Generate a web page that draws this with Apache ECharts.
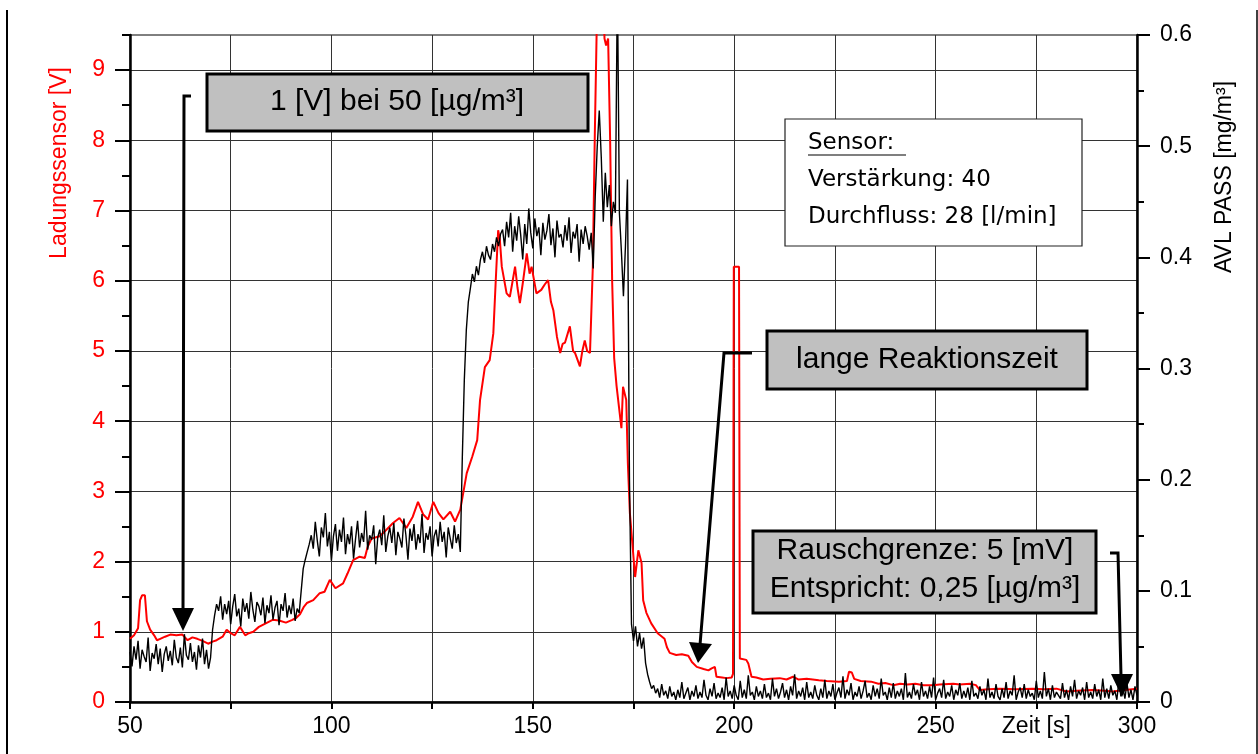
<!DOCTYPE html>
<html>
<head>
<meta charset="utf-8">
<script src="https://cdn.jsdelivr.net/npm/echarts@6/dist/echarts.min.js"></script>
<style>
html,body{margin:0;padding:0;background:#fff;}
#chart{width:1258px;height:754px;}
</style>
</head>
<body>
<div id="chart"></div>
<script>
// ---------- data ----------
// Ladungssensor [V] : [time s, value V]
const redSeries = [
[50,0.90],[51,0.95],[52,1.05],[52.5,1.45],[53,1.52],[53.7,1.52],[54.2,1.15],[55,1.03],[56,0.95],[56.7,0.88],
[57.5,0.90],[58.7,0.93],[60,0.96],[61.5,0.95],[63,0.96],[64.3,0.88],[65.5,0.92],[66.7,0.90],[68,0.87],[69.4,0.83],
[70.5,0.86],[71.5,0.88],[73,0.93],[74,1.03],[75,0.98],[76,0.95],[77.3,1.07],[78.6,0.95],[79.5,0.98],[80.6,1.00],
[82,1.07],[83.7,1.12],[85.4,1.17],[87,1.16],[88.7,1.13],[90.3,1.17],[91.3,1.20],[92.2,1.25],[93.2,1.36],[93.9,1.41],
[95.5,1.45],[97.1,1.55],[98.3,1.57],[99.6,1.74],[101,1.62],[102.9,1.69],[104,1.83],[105.4,2.02],[107,2.07],[108.3,2.05],
[109,2.21],[110,2.33],[112,2.36],[113.6,2.45],[115.3,2.55],[116.9,2.62],[118.6,2.48],[120.2,2.64],[121.5,2.85],[122.8,2.67],
[124,2.60],[125.3,2.85],[126.6,2.69],[127.8,2.60],[129.5,2.71],[130.7,2.57],[132,2.74],[132.8,3.00],[133.6,3.26],[135,3.50],
[136.2,3.73],[136.9,4.30],[138.1,4.77],[139.3,4.87],[140.2,5.25],[140.8,6.00],[141.4,6.72],[141.8,6.60],[142.3,6.20],[143.5,5.82],
[144.3,5.77],[145,6.00],[145.6,6.20],[146.2,5.90],[146.8,5.68],[147.6,6.00],[148.5,6.39],[149.2,6.10],[149.7,6.20],[150.9,5.82],
[152.1,5.87],[153,5.95],[153.8,6.01],[154.5,5.70],[155.1,5.58],[156,5.20],[156.8,4.97],[157.4,5.10],[158,5.12],[159.2,5.35],
[160,5.00],[160.5,4.97],[161.7,4.78],[162.3,5.00],[162.9,5.15],[163.5,5.00],[164.2,4.97],[164.9,6.20],[165.4,8.10],[165.9,9.70],
[166.5,10.5],[167.3,10.5],[167.8,9.45],[168.2,9.35],[168.7,9.45],[169.2,8.00],[169.7,6.00],[170.2,4.90],[170.8,4.50],[171.4,4.20],
[172,3.90],[172.4,4.49],[172.8,4.50],[173.2,4.30],[173.6,3.40],[174.1,2.69],[175.4,1.78],[176.2,2.16],[177,1.98],[177.4,1.45],
[178.2,1.27],[179.4,1.12],[181,0.98],[182.7,0.90],[183.3,0.78],[184,0.70],[185.6,0.67],[187,0.68],[188.6,0.66],[189.5,0.57],
[190.7,0.50],[192.4,0.47],[193.6,0.45],[194.4,0.48],[195.2,0.50],[195.6,0.36],[197,0.35],[198.1,0.34],[199.4,0.35],[199.7,0.40],
[199.9,6.20],[201.2,6.20],[201.4,0.62],[203,0.60],[203.5,0.55],[204.3,0.36],[205.5,0.35],[207.2,0.32],[209,0.33],[211.3,0.34],
[213,0.32],[214.6,0.36],[216,0.32],[218,0.33],[221,0.31],[223,0.30],[226,0.29],[228,0.30],[228.5,0.43],[229.2,0.42],
[229.8,0.33],[231.4,0.30],[234,0.29],[235.8,0.26],[237.5,0.27],[239.5,0.24],[241.2,0.26],[243,0.25],[245,0.26],[247,0.24],
[249.3,0.24],[251,0.25],[254.4,0.26],[256,0.25],[258.6,0.26],[260,0.24],[261,0.17],[263,0.18],[266,0.19],[270,0.18],
[274,0.19],[277,0.18],[280,0.19],[282.5,0.15],[285,0.16],[289,0.17],[292,0.16],[294,0.15],[297,0.17],[300,0.19]
];

// AVL PASS [mg/m³], sampled every 0.5 s from 50 s
const blackStart = 50;
const blackStep = 0.5;
const blackValues = [
// 50 - 69.5
0.045,0.032,0.050,0.038,0.055,0.030,0.047,0.041,0.036,0.058,
0.028,0.044,0.039,0.052,0.034,0.048,0.027,0.043,0.050,0.037,
0.046,0.033,0.056,0.040,0.035,0.049,0.031,0.061,0.042,0.038,
0.053,0.036,0.045,0.029,0.051,0.040,0.057,0.034,0.047,0.030,
// 70 - 71.5
0.040,0.065,0.078,0.088,
// 72 - 91.5
0.082,0.095,0.074,0.088,0.079,0.091,0.070,0.086,0.097,0.077,
0.084,0.068,0.093,0.081,0.089,0.075,0.099,0.083,0.072,0.090,
0.086,0.078,0.094,0.071,0.087,0.080,0.096,0.074,0.085,0.091,
0.069,0.088,0.082,0.098,0.076,0.087,0.079,0.093,0.073,0.084,
// 92 - 94.5
0.080,0.100,0.120,0.128,0.135,0.142,
// 95 - 131.5
0.150,0.138,0.162,0.145,0.131,0.157,0.148,0.170,0.140,0.153,
0.127,0.149,0.160,0.136,0.155,0.144,0.166,0.133,0.151,0.142,
0.158,0.129,0.147,0.163,0.139,0.152,0.144,0.172,0.137,0.150,
0.146,0.159,0.124,0.148,0.155,0.141,0.168,0.135,0.149,0.157,
0.143,0.161,0.132,0.153,0.147,0.139,0.165,0.150,0.128,0.156,
0.145,0.160,0.137,0.151,0.143,0.169,0.134,0.152,0.146,0.158,
0.131,0.149,0.155,0.140,0.162,0.144,0.153,0.130,0.157,0.147,
0.138,0.159,0.143,0.151,
// 132 - 142
0.135,0.220,0.290,0.335,0.360,0.372,0.385,0.378,0.392,0.384,
0.398,0.405,0.395,0.410,0.402,0.398,0.412,0.405,0.418,0.410,0.421,
// 142.5 - 164.5
0.425,0.410,0.432,0.418,0.440,0.405,0.428,0.415,0.437,0.420,
0.398,0.430,0.412,0.444,0.422,0.408,0.435,0.419,0.427,0.402,
0.431,0.416,0.424,0.439,0.411,0.426,0.400,0.433,0.418,0.421,
0.409,0.429,0.415,0.436,0.404,0.423,0.417,0.430,0.396,0.425,
0.412,0.428,0.419,0.407,0.422,
// 165 - 180.5
0.390,0.455,0.500,0.532,0.490,0.432,0.476,0.445,0.465,0.428,
0.450,0.440,0.650,0.440,0.405,0.365,0.410,0.470,0.200,0.070,
0.055,0.068,0.050,0.062,0.048,0.058,0.035,0.025,0.018,0.012,
0.015,0.008,
// 181 - 300
0.012,0.004,0.016,0.006,0.010,0.003,0.014,0.005,0.009,0.002,
0.011,0.004,0.018,0.003,0.008,0.013,0.002,0.010,0.005,0.015,
0.003,0.009,0.004,0.020,0.006,0.002,0.012,0.005,0.017,0.003,
0.008,0.004,0.013,0.002,0.022,0.005,0.010,0.003,0.015,0.006,
0.002,0.019,0.004,0.011,0.003,0.024,0.006,0.009,0.002,0.014,
0.005,0.010,0.003,0.016,0.004,0.008,0.002,0.021,0.005,0.012,
0.003,0.009,0.017,0.004,0.011,0.002,0.014,0.006,0.025,0.003,
0.010,0.005,0.013,0.002,0.018,0.004,0.009,0.003,0.015,0.006,
0.002,0.012,0.004,0.020,0.003,0.010,0.005,0.016,0.002,0.008,
0.013,0.004,0.023,0.003,0.011,0.006,0.017,0.002,0.009,0.005,
0.014,0.003,0.010,0.019,0.004,0.008,0.002,0.015,0.005,0.012,
0.003,0.021,0.006,0.009,0.002,0.013,0.004,0.017,0.003,0.010,
0.005,0.012,0.002,0.026,0.004,0.009,0.003,0.016,0.006,0.011,
0.002,0.018,0.005,0.010,0.003,0.014,0.004,0.022,0.002,0.008,
0.012,0.004,0.020,0.003,0.009,0.005,0.015,0.002,0.011,0.006,
0.017,0.003,0.010,0.004,0.013,0.002,0.019,0.005,0.008,0.003,
0.014,0.006,0.011,0.002,0.021,0.004,0.009,0.003,0.016,0.005,
0.002,0.012,0.004,0.018,0.003,0.010,0.006,0.024,0.002,0.009,
0.013,0.004,0.016,0.003,0.011,0.005,0.008,0.002,0.019,0.004,
0.010,0.003,0.027,0.005,0.012,0.002,0.015,0.004,0.009,0.006,
0.003,0.017,0.004,0.011,0.002,0.014,0.005,0.020,0.003,0.010,
0.006,0.013,0.002,0.018,0.004,0.009,0.003,0.016,0.005,0.011,
0.002,0.021,0.004,0.012,0.003,0.015,0.006,0.010,0.002,0.019,
0.005,0.013,0.003,0.017,0.004,0.011,0.002,0.014,0.006
];

// tick labels
const xTickValues = [50, 100, 150, 200, 250, 275, 300];
const xTickLabels = ['50', '100', '150', '200', '250', 'Zeit [s]', '300'];
const leftTickValues = [0, 1, 2, 3, 4, 5, 6, 7, 8, 9];
const leftMinorTickValues = [0.5, 1.5, 2.5, 3.5, 4.5, 5.5, 6.5, 7.5, 8.5, 9.5];
const rightTickValues = [0, 0.1, 0.2, 0.3, 0.4, 0.5, 0.6];
const rightTickLabels = ['0', '0.1', '0.2', '0.3', '0.4', '0.5', '0.6'];

const leftTitle = 'Ladungssensor [V]';
const rightTitle = 'AVL PASS [mg/m³]';
const note1 = '1 [V] bei 50 [µg/m³]';
const note2 = 'lange Reaktionszeit';
const note3 = ['Rauschgrenze: 5 [mV]', 'Entspricht: 0,25 [µg/m³]'];
const sensorLines = ['Sensor:', 'Verstärkung: 40', 'Durchfluss: 28 [l/min]'];

// ---------- chart ----------
const blackSeries = blackValues.map((v, i) => [blackStart + i * blackStep, v]);
const FONT = "'Liberation Sans', Arial, sans-serif";
const BOXFONT = '"DejaVu Sans", sans-serif';

const chart = echarts.init(document.getElementById('chart'), null, {renderer: 'canvas'});

function arrowGraphics(points, head) {
  return [
    {type: 'polyline', z: 100, shape: {points: points}, style: {stroke: '#000', lineWidth: 3, fill: null}},
    {type: 'polygon', z: 100, shape: {points: head}, style: {fill: '#000'}}
  ];
}

const option = {
  animation: false,
  backgroundColor: '#fff',
  grid: {left: 130, right: 121, top: 35, bottom: 52, show: true, borderColor: '#000', borderWidth: 1, backgroundColor: 'transparent'},
  xAxis: {
    type: 'value', min: 50, max: 300, interval: 25,
    axisLine: {show: true, onZero: false, lineStyle: {color: '#000', width: 2.5}},
    axisTick: {show: true, length: 7, lineStyle: {color: '#000', width: 2}},
    axisLabel: {
      color: '#000', fontSize: 23, fontFamily: FONT, margin: 13, showMaxLabel: true, showMinLabel: true,
      formatter: function (v) { const i = xTickValues.indexOf(v); return i >= 0 ? xTickLabels[i] : ''; }
    },
    splitLine: {show: true, lineStyle: {color: '#333', width: 1}}
  },
  yAxis: [
    {
      type: 'value', position: 'left', min: 0, max: 9.5, interval: 1,
      axisLine: {show: true, onZero: false, lineStyle: {color: '#000', width: 2.5}},
      axisTick: {show: true, length: 15, customValues: leftTickValues, lineStyle: {color: '#000', width: 2}},
      axisLabel: {color: '#ff0000', fontSize: 23, fontFamily: FONT, margin: 25, customValues: leftTickValues},
      splitLine: {show: true, lineStyle: {color: '#333', width: 1}}
    },
    {
      type: 'value', position: 'right', min: 0, max: 0.6, interval: 0.1,
      axisLine: {show: true, onZero: false, lineStyle: {color: '#000', width: 2.5}},
      axisTick: {show: true, length: 13, lineStyle: {color: '#000', width: 2}},
      minorTick: {show: true, splitNumber: 2, length: 7, lineStyle: {color: '#000', width: 2}},
      axisLabel: {color: '#000', fontSize: 23, fontFamily: FONT, margin: 23,
        formatter: function (v) { const i = rightTickValues.indexOf(Math.round(v * 10) / 10); return i >= 0 ? rightTickLabels[i] : ''; }},
      splitLine: {show: false}
    },
    {
      type: 'value', position: 'left', min: 0, max: 9.5, interval: 0.5,
      axisLine: {show: false},
      axisTick: {show: true, length: 8, customValues: leftMinorTickValues, lineStyle: {color: '#000', width: 2}},
      axisLabel: {show: false},
      splitLine: {show: false}
    }
  ],
  series: [
    {
      name: leftTitle, type: 'line', yAxisIndex: 0, data: redSeries, showSymbol: false, symbol: 'none',
      lineStyle: {color: '#ff0000', width: 2}, z: 3
    },
    {
      name: rightTitle, type: 'line', yAxisIndex: 1, data: blackSeries, showSymbol: false, symbol: 'none',
      lineStyle: {color: '#000', width: 1.4}, z: 4
    }
  ],
  graphic: [
    // page side borders
    {type: 'line', z: 100, shape: {x1: 7, y1: 10, x2: 7, y2: 754}, style: {stroke: '#000', lineWidth: 2}},
    {type: 'line', z: 100, shape: {x1: 1257, y1: 10, x2: 1257, y2: 754}, style: {stroke: '#000', lineWidth: 1.5}},
    // axis titles
    {type: 'text', z: 100, x: 60, y: 163, rotation: Math.PI / 2,
      style: {text: leftTitle, fill: '#ff0000', font: '23px ' + FONT, textAlign: 'center', textVerticalAlign: 'middle'}},
    {type: 'text', z: 100, x: 1225, y: 177, rotation: Math.PI / 2,
      style: {text: rightTitle, fill: '#000', font: '23px ' + FONT, textAlign: 'center', textVerticalAlign: 'middle'}},
    // note 1
    {type: 'rect', z: 100, shape: {x: 207, y: 74, width: 381, height: 57}, style: {fill: '#c0c0c0', stroke: '#000', lineWidth: 3}},
    {type: 'text', z: 101, x: 397, y: 102, style: {text: note1, fill: '#000', font: '30px ' + FONT, textAlign: 'center', textVerticalAlign: 'middle'}},
    ...arrowGraphics([[191, 96], [184, 96], [183, 610]], [[172, 608], [194, 608], [183, 631]]),
    // sensor box
    {type: 'rect', z: 100, shape: {x: 785, y: 119, width: 297, height: 127}, style: {fill: '#fff', stroke: '#222', lineWidth: 1.2}},
    {type: 'text', z: 101, x: 808, y: 143, style: {text: sensorLines[0], fill: '#000', font: '23px ' + BOXFONT, textAlign: 'left', textVerticalAlign: 'middle'}},
    {type: 'line', z: 101, shape: {x1: 808, y1: 155, x2: 906, y2: 155}, style: {stroke: '#000', lineWidth: 1.2}},
    {type: 'text', z: 101, x: 808, y: 180, style: {text: sensorLines[1], fill: '#000', font: '23px ' + BOXFONT, textAlign: 'left', textVerticalAlign: 'middle'}},
    {type: 'text', z: 101, x: 808, y: 217, style: {text: sensorLines[2], fill: '#000', font: '23px ' + BOXFONT, textAlign: 'left', textVerticalAlign: 'middle'}},
    // note 2
    {type: 'rect', z: 100, shape: {x: 767, y: 331, width: 320, height: 58}, style: {fill: '#c0c0c0', stroke: '#000', lineWidth: 3}},
    {type: 'text', z: 101, x: 927, y: 360, style: {text: note2, fill: '#000', font: '30px ' + FONT, textAlign: 'center', textVerticalAlign: 'middle'}},
    ...arrowGraphics([[752, 353], [724, 353], [700, 645]], [[689, 642], [712, 644], [698, 663]]),
    // note 3
    {type: 'rect', z: 100, shape: {x: 753, y: 531, width: 343, height: 82}, style: {fill: '#c0c0c0', stroke: '#000', lineWidth: 3}},
    {type: 'text', z: 101, x: 925, y: 551, style: {text: note3[0], fill: '#000', font: '30px ' + FONT, textAlign: 'center', textVerticalAlign: 'middle'}},
    {type: 'text', z: 101, x: 925, y: 589, style: {text: note3[1], fill: '#000', font: '30px ' + FONT, textAlign: 'center', textVerticalAlign: 'middle'}},
    ...arrowGraphics([[1110, 553], [1118, 553], [1121, 676]], [[1111, 674], [1133, 674], [1122, 697]])
  ]
};
chart.setOption(option);
</script>
</body>
</html>
